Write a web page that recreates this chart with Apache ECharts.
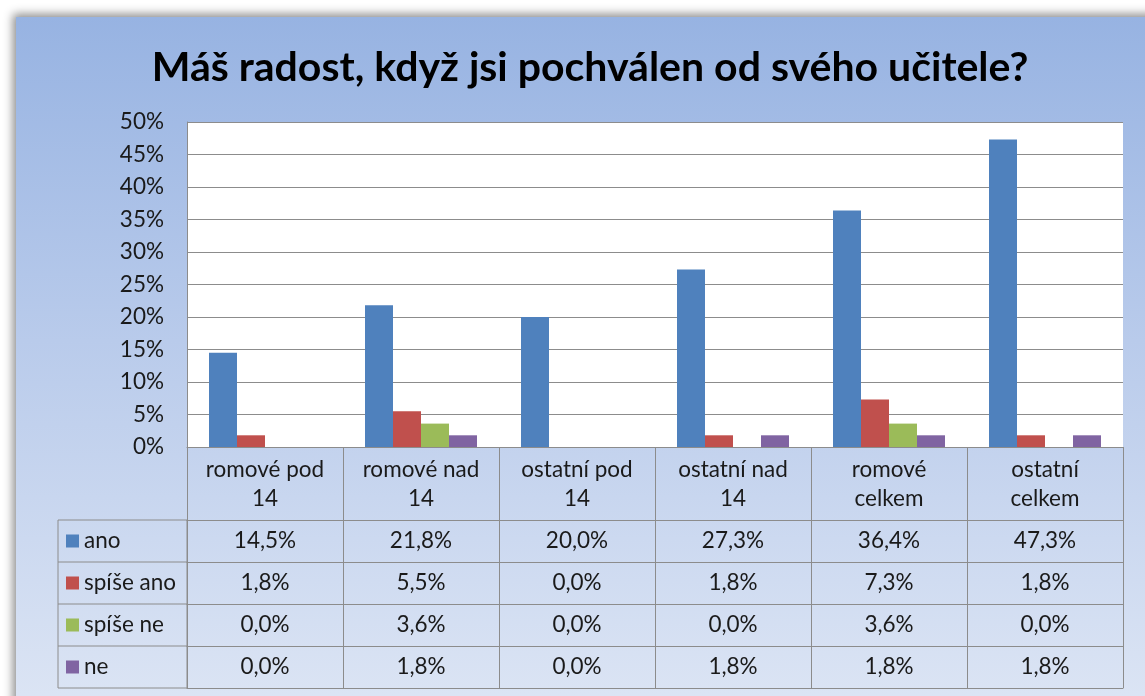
<!DOCTYPE html>
<html>
<head>
<meta charset="utf-8">
<script src="https://cdn.jsdelivr.net/npm/echarts@6/dist/echarts.min.js"></script>
<style>
  html, body { margin: 0; padding: 0; background: #fff; overflow: hidden; }
  #frame {
    position: absolute; left: 16px; top: 17px; width: 1160px; height: 720px;
    background: linear-gradient(to bottom, #97b3e2 0%, #b9cbeb 45%, #dfe7f5 100%);
    box-shadow: -3px -3px 9px rgba(0, 0, 0, 0.45);
  }
  #chart { position: absolute; left: 0; top: 0; width: 1145px; height: 696px; }
</style>
</head>
<body>
<div id="frame"></div>
<div id="chart"></div>
<script>
// kategorie a hodnoty (v %)
const categories = ['romové pod\n14', 'romové nad\n14', 'ostatní pod\n14', 'ostatní nad\n14', 'romové\ncelkem', 'ostatní\ncelkem'];
const seriesNames = ['ano', 'spíše ano', 'spíše ne', 'ne'];
const ano = [14.5, 21.8, 20.0, 27.3, 36.4, 47.3];
const spiseAno = [1.8, 5.5, 0.0, 1.8, 7.3, 1.8];
const spiseNe = [0.0, 3.6, 0.0, 0.0, 3.6, 0.0];
const ne = [0.0, 1.8, 0.0, 1.8, 1.8, 1.8];
const colors = ['#4f81bd', '#c0504d', '#9bbb59', '#8064a2'];

const values = [ano, spiseAno, spiseNe, ne];
const fontFamily = 'Lato, "Open Sans", sans-serif';
const fontSize = 22.5;
const textColor = '#1a1a1a';
const lineColor = '#8c8c8c';

// rozměry grafu a tabulky
const gridLeft = 187, gridRight = 22, gridTop = 122, gridBottom = 249;
const headerH = 73, rowH = 42, tableLeft = 58;

const fmt = v => v.toFixed(1).replace('.', ',') + '%';

const chart = echarts.init(document.getElementById('chart'));

// osy x: záhlaví + jeden řádek tabulky na každou řadu
const xAxes = [{
  type: 'category',
  data: categories,
  position: 'bottom',
  axisLine: { lineStyle: { color: lineColor } },
  axisTick: { show: true, interval: 0, length: headerH, lineStyle: { color: lineColor } },
  axisLabel: { interval: 0, margin: 8, fontSize, lineHeight: 29, color: textColor, fontFamily }
}];
values.forEach((arr, i) => {
  xAxes.push({
    type: 'category',
    data: arr.map(fmt),
    position: 'bottom',
    offset: headerH + rowH * i,
    axisLine: { show: true, onZero: false, lineStyle: { color: lineColor } },
    axisTick: { show: true, interval: 0, length: rowH, lineStyle: { color: lineColor } },
    axisLabel: { interval: 0, margin: 0, fontSize, lineHeight: rowH, color: textColor, fontFamily }
  });
});
xAxes.push({
  type: 'category',
  data: categories,
  position: 'bottom',
  offset: headerH + rowH * values.length,
  axisLine: { show: true, onZero: false, lineStyle: { color: lineColor } },
  axisTick: { show: false },
  axisLabel: { show: false }
});

// levý sloupec tabulky
const tableGraphics = [{
  type: 'rect',
  shape: { x: tableLeft, y: 696 - gridBottom + headerH, width: gridLeft - tableLeft, height: rowH * values.length },
  style: { fill: 'none', stroke: lineColor, lineWidth: 1 }
}];
for (let i = 1; i < values.length; i++) {
  const y = 696 - gridBottom + headerH + rowH * i;
  tableGraphics.push({
    type: 'line',
    shape: { x1: tableLeft, y1: y, x2: gridLeft, y2: y },
    style: { stroke: lineColor, lineWidth: 1 }
  });
}

const option = {
  animation: false,
  color: colors,
  title: {
    text: 'Máš radost, když jsi pochválen od svého učitele?',
    left: 585,
    top: 42,
    textAlign: 'center',
    textStyle: { fontSize: 41, fontWeight: 'bold', color: '#000', fontFamily }
  },
  legend: {
    orient: 'vertical',
    left: 66,
    top: 696 - gridBottom + headerH,
    padding: 0,
    itemGap: 0,
    itemWidth: 13,
    itemHeight: 13,
    icon: 'rect',
    textStyle: { fontSize, lineHeight: rowH, color: textColor, fontFamily }
  },
  grid: { left: gridLeft, right: gridRight, top: gridTop, bottom: gridBottom, backgroundColor: '#fff', show: true, borderWidth: 0 },
  xAxis: xAxes,
  yAxis: {
    type: 'value',
    min: 0,
    max: 50,
    interval: 5,
    axisLine: { show: true, lineStyle: { color: lineColor } },
    axisTick: { show: false },
    splitLine: { lineStyle: { color: lineColor } },
    axisLabel: { formatter: '{value}%', fontSize, margin: 23, color: textColor, fontFamily }
  },
  series: seriesNames.map((name, i) => ({
    name,
    type: 'bar',
    xAxisIndex: 0,
    data: values[i],
    barWidth: 28,
    barGap: '0%'
  })),
  graphic: tableGraphics
};

chart.setOption(option);
</script>
</body>
</html>
